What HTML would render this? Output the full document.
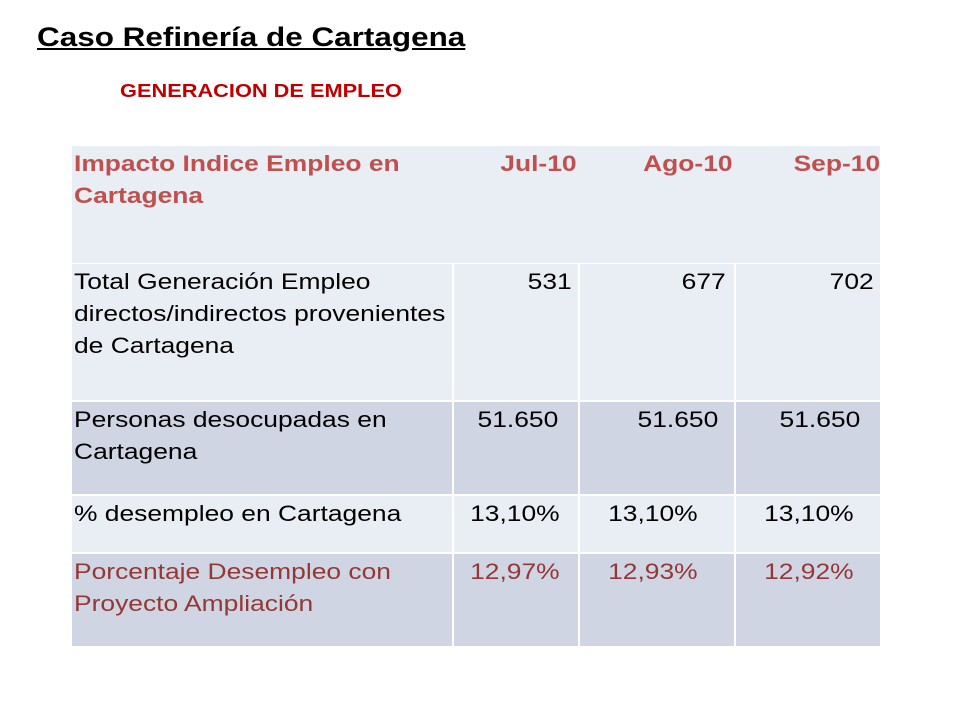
<!DOCTYPE html>
<html><head><meta charset="utf-8"><style>
body{margin:0;width:960px;height:720px;background:#fff;position:relative;font-family:"Liberation Sans",Arial,sans-serif;overflow:hidden}
#title{position:absolute;left:37px;top:22px;font-size:27px;font-weight:bold;text-decoration:underline;color:#000;transform:scaleX(1.165);transform-origin:left}
#sub{position:absolute;left:120px;top:81px;font-size:18px;font-weight:bold;color:#c00000;transform:scaleX(1.21);transform-origin:left}
.c{position:absolute;box-sizing:border-box;font-size:22px;line-height:32px;color:#000;padding:2px 2px;white-space:nowrap}
.c>span{display:inline-block;transform:scaleX(1.2);transform-origin:left top}
.num>span{transform-origin:right top}
.h{color:#c0504d;font-weight:bold}
.r5{color:#953735}
.l{background:#e9edf4}.d{background:#cfd5e3}
.num{text-align:right}
</style></head><body>
<div id="title">Caso Refinería de Cartagena</div>
<div id="sub">GENERACION DE EMPLEO</div>
<div>
<div class="c l h" style="left:72px;top:146px;width:808px;height:117px"></div>
<div class="c h" style="left:72px;top:146px;width:400px;height:117px"><span>Impacto Indice Empleo en<br>Cartagena</span></div>
<div class="c h num" style="left:453px;top:146px;width:126px"><span>Jul-10</span></div>
<div class="c h num" style="left:579px;top:146px;width:156px"><span>Ago-10</span></div>
<div class="c h num" style="left:735px;top:146px;width:145px;padding-right:0"><span>Sep-10</span></div>

<div class="c l" style="left:72px;top:264px;width:380px;height:136px"><span>Total Generación Empleo<br>directos/indirectos provenientes<br>de Cartagena</span></div>
<div class="c l num" style="left:454px;top:264px;width:124px;height:136px;padding-right:6px"><span>531</span></div>
<div class="c l num" style="left:580px;top:264px;width:154px;height:136px;padding-right:8px"><span>677</span></div>
<div class="c l num" style="left:736px;top:264px;width:144px;height:136px;padding-right:6px"><span>702</span></div>

<div class="c d" style="left:72px;top:402px;width:380px;height:92px"><span>Personas desocupadas en<br>Cartagena</span></div>
<div class="c d num" style="left:454px;top:402px;width:124px;height:92px;padding-right:20px"><span>51.650</span></div>
<div class="c d num" style="left:580px;top:402px;width:154px;height:92px;padding-right:16px"><span>51.650</span></div>
<div class="c d num" style="left:736px;top:402px;width:144px;height:92px;padding-right:20px"><span>51.650</span></div>

<div class="c l" style="left:72px;top:496px;width:380px;height:56px"><span>% desempleo en Cartagena</span></div>
<div class="c l num" style="left:454px;top:496px;width:124px;height:56px;padding-right:18px"><span>13,10%</span></div>
<div class="c l num" style="left:580px;top:496px;width:154px;height:56px;padding-right:36px"><span>13,10%</span></div>
<div class="c l num" style="left:736px;top:496px;width:144px;height:56px;padding-right:26px"><span>13,10%</span></div>

<div class="c d r5" style="left:72px;top:554px;width:380px;height:92px"><span>Porcentaje Desempleo con<br>Proyecto Ampliación</span></div>
<div class="c d r5 num" style="left:454px;top:554px;width:124px;height:92px;padding-right:18px"><span>12,97%</span></div>
<div class="c d r5 num" style="left:580px;top:554px;width:154px;height:92px;padding-right:36px"><span>12,93%</span></div>
<div class="c d r5 num" style="left:736px;top:554px;width:144px;height:92px;padding-right:26px"><span>12,92%</span></div>
</div>
</body></html>
